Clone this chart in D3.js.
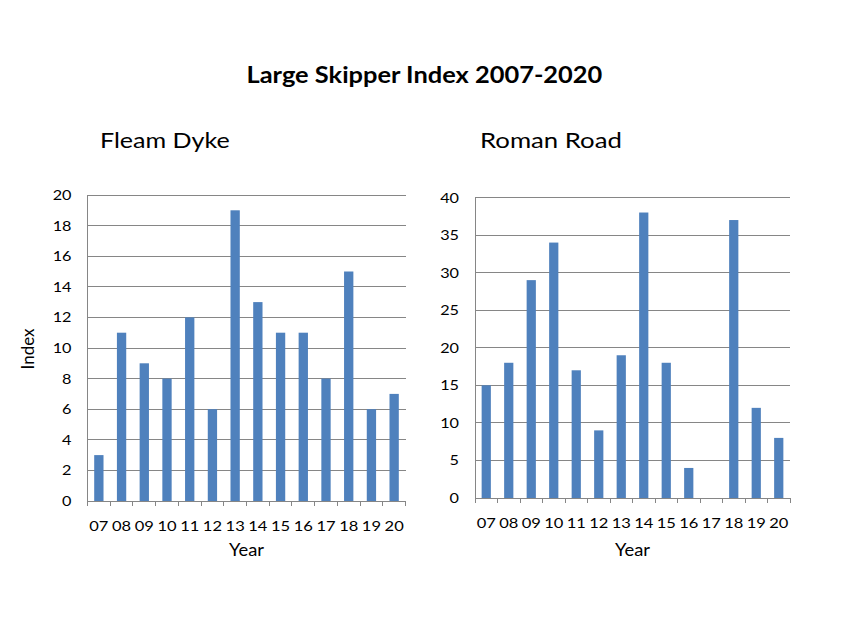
<!DOCTYPE html>
<html><head><meta charset="utf-8">
<script src="https://cdn.jsdelivr.net/npm/d3@7"></script>
<style>body{margin:0;background:#fff}svg{display:block}text{font-family:Lato,"Open Sans",sans-serif;fill:#000}</style>
</head><body>
<script>
const years = ["07","08","09","10","11","12","13","14","15","16","17","18","19","20"];
const fleamDyke = [3,11,9,8,12,6,19,13,11,11,8,15,6,7];
const romanRoad = [15,18,29,34,17,9,19,38,18,4,0,37,12,8];
const fleamTicks = [0,2,4,6,8,10,12,14,16,18,20];
const romanTicks = [0,5,10,15,20,25,30,35,40];

const W=848,H=636, SX=1.16;
const svg=d3.select("body").append("svg").attr("width",W).attr("height",H);
function txt(parent,x,y,str,size,anchor,weight,sx){
  return parent.append("text").attr("transform",`translate(${x},${y}) scale(${sx||SX},1)`)
    .attr("text-anchor",anchor||"start").style("font-size",size+"px")
    .style("font-weight",weight||"normal").text(str);
}
txt(svg,424.4,83.3,"Large Skipper Index 2007-2020",22,"middle","bold",1.155);

function panel(cfg){
  const x=d3.scaleBand().domain(years).range([cfg.x0,cfg.x1]).paddingInner(0.59).paddingOuter(0.295);
  const xb=d3.scaleLinear().domain([0,years.length]).range([cfg.x0,cfg.x1]);
  const y=d3.scaleLinear().domain([0,cfg.max]).range([cfg.y0,cfg.y1]);
  const g=svg.append("g");
  g.selectAll("line.grid").data(cfg.ticks).join("line")
    .attr("x1",cfg.x0).attr("x2",cfg.x1).attr("y1",d=>y(d)).attr("y2",d=>y(d))
    .attr("stroke","#868686").attr("stroke-width",1).attr("shape-rendering","crispEdges");
  g.append("line").attr("x1",cfg.x0).attr("x2",cfg.x0).attr("y1",cfg.y0).attr("y2",cfg.y1)
    .attr("stroke","#868686").attr("shape-rendering","crispEdges");
  g.selectAll("line.xt").data(d3.range(years.length+1)).join("line")
    .attr("x1",d=>xb(d)).attr("x2",d=>xb(d)).attr("y1",cfg.y0).attr("y2",cfg.y0+5)
    .attr("stroke","#868686").attr("shape-rendering","crispEdges");
  g.selectAll("rect").data(cfg.values).join("rect")
    .attr("x",(d,i)=>x(years[i])).attr("width",x.bandwidth())
    .attr("y",d=>y(d)).attr("height",d=>y(0)-y(d)).attr("fill","#4f81bd");
  cfg.ticks.forEach(d=>txt(g,cfg.x0-16,y(d)+5,d,14,"end"));
  years.forEach(d=>txt(g,x(d)+x.bandwidth()/2,cfg.y0+30,d,14,"middle",null,1.18));
  txt(g,(cfg.x0+cfg.x1)/2,556,"Year",17,"middle",null,1.08);
  txt(g,cfg.tx,148.3,cfg.title,22,"start",null,cfg.tsx);
}
panel({x0:87.5,x1:405.5,y0:501,y1:195,max:20,ticks:fleamTicks,values:fleamDyke,title:"Fleam Dyke",tx:100,tsx:1.14});
panel({x0:475,x1:790,y0:498,y1:197.5,max:40,ticks:romanTicks,values:romanRoad,title:"Roman Road",tx:480,tsx:1.17});
svg.append("text").attr("transform","translate(34,349) rotate(-90)").attr("text-anchor","middle")
  .style("font-size","17px").text("Index");
</script>
</body></html>
